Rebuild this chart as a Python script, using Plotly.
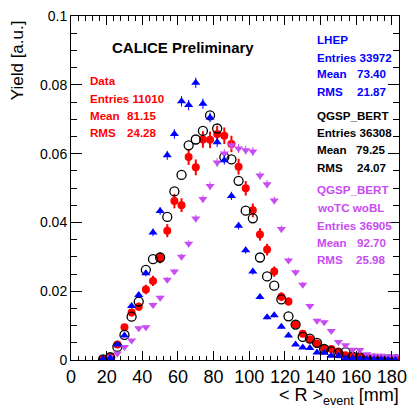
import plotly.graph_objects as go

# bin centres [mm]
r_bins = [18, 22, 26, 30, 34, 38, 42, 46, 50, 54, 58, 62, 66, 70, 74, 78, 82, 86, 90, 94, 98,
          102, 106, 110, 114, 118, 122, 126, 130, 134, 138, 142, 146, 150, 154, 158, 162, 166,
          170, 174, 178, 182]

data_y = [0.0003, 0.0008, 0.0045, 0.0095, 0.0138, 0.0155, 0.0205, 0.0230, 0.0297, 0.0376, 0.0462,
          0.0450, 0.0590, 0.0560, 0.0641, 0.0640, 0.0657, 0.0652, 0.0628, 0.0562, 0.0499, 0.0435,
          0.0365, 0.0321, 0.0257, 0.0184, 0.0170, 0.0103, 0.0076, 0.0060, 0.0048, 0.0033, 0.0032,
          0.0025, 0.0014, 0.0011, 0.0009, 0.0006, 0.0005, 0.0004, 0.0003, 0.0002]
data_err = [0.0002, 0.0003, 0.0006, 0.0009, 0.0011, 0.0012, 0.0014, 0.0015, 0.0016, 0.0019, 0.0021,
            0.0020, 0.0023, 0.0023, 0.0024, 0.0024, 0.0024, 0.0024, 0.0024, 0.0023, 0.0021, 0.0020,
            0.0018, 0.0017, 0.0015, 0.0013, 0.0012, 0.0010, 0.0008, 0.0007, 0.0007, 0.0006, 0.0005,
            0.0005, 0.0004, 0.0003, 0.0003, 0.0002, 0.0002, 0.0002, 0.0002, 0.0001]

lhep_y = [0.0003, 0.0006, 0.0045, 0.0071, 0.0157, 0.0189, 0.0252, 0.0371, 0.0433, 0.0595, 0.0657,
          0.0752, 0.0741, 0.0806, 0.0745, 0.0705, 0.0633, 0.0581, 0.0477, 0.0390, 0.0319, 0.0257,
          0.0183, 0.0124, 0.0130, 0.0097, 0.0071, 0.0045, 0.0036, 0.0035, 0.0022, 0.0021, 0.0012,
          0.0012, 0.0005, 0.0005, 0.0004, 0.0003, 0.0002, 0.0002, 0.0001, 0.0001]
lhep_err = [0.0001, 0.0001, 0.0004, 0.0005, 0.0007, 0.0008, 0.0009, 0.0011, 0.0011, 0.0013, 0.0014,
            0.0015, 0.0015, 0.0015, 0.0015, 0.0014, 0.0014, 0.0013, 0.0012, 0.0011, 0.0010, 0.0009,
            0.0007, 0.0006, 0.0006, 0.0005, 0.0005, 0.0004, 0.0003, 0.0003, 0.0003, 0.0002, 0.0002,
            0.0002, 0.0001, 0.0001, 0.0001, 0.0001, 0.0001, 0.0001, 0.0001, 0.0001]

bert_y = [0.0002, 0.0008, 0.0038, 0.0073, 0.0126, 0.0170, 0.0262, 0.0293, 0.0298, 0.0416, 0.0490,
          0.0538, 0.0624, 0.0641, 0.0666, 0.0711, 0.0673, 0.0590, 0.0583, 0.0521, 0.0434, 0.0412,
          0.0298, 0.0243, 0.0216, 0.0176, 0.0127, 0.0103, 0.0067, 0.0062, 0.0050, 0.0032, 0.0025,
          0.0020, 0.0023, 0.0010, 0.0008, 0.0005, 0.0004, 0.0003, 0.0002, 0.0002]

wotc_y = [None, 0.0008, 0.0019, 0.0038, 0.0057, 0.0092, 0.0095, 0.0160, 0.0181, 0.0233, 0.0257,
          0.0300, 0.0338, 0.0411, 0.0468, 0.0506, 0.0574, 0.0600, 0.0624, 0.0615, 0.0610, 0.0606,
          0.0536, 0.0511, 0.0464, 0.0381, 0.0289, 0.0255, 0.0219, 0.0157, 0.0114, 0.0110, 0.0084,
          0.0052, 0.0043, 0.0030, 0.0029, 0.0017, 0.0012, 0.0012, 0.0011, 0.0010]
wotc_err = [0.0, 0.0002, 0.0002, 0.0003, 0.0004, 0.0005, 0.0005, 0.0007, 0.0007, 0.0008, 0.0008,
            0.0009, 0.0010, 0.0011, 0.0011, 0.0012, 0.0013, 0.0013, 0.0013, 0.0013, 0.0013, 0.0013,
            0.0012, 0.0012, 0.0011, 0.0010, 0.0009, 0.0008, 0.0008, 0.0007, 0.0006, 0.0006, 0.0005,
            0.0004, 0.0003, 0.0003, 0.0003, 0.0002, 0.0002, 0.0002, 0.0002, 0.0002]

RED = "#ff0000"
BLUE = "#0000ff"
BLACK = "#000000"
VIOLET = "#c84cf2"
FONT = "Liberation Sans, Arial, Helvetica, sans-serif"

W, H = 415, 407
L, R, T, B = 71, 8, 10, 47
PW, PH = W - L - R, H - T - B


def px(x):
    return (x - L) / PW


def py(y):
    return (H - B - y) / PH


fig = go.Figure()

fig.add_trace(go.Scatter(
    x=r_bins, y=data_y, mode="markers", name="Data",
    marker=dict(symbol="circle", size=8, color=RED),
    error_y=dict(type="data", array=data_err, color=RED, thickness=2, width=0)))
fig.add_trace(go.Scatter(
    x=r_bins, y=bert_y, mode="markers", name="QGSP_BERT",
    marker=dict(symbol="circle-open", size=9, color=BLACK, line=dict(width=1.3, color=BLACK))))
fig.add_trace(go.Scatter(
    x=r_bins, y=wotc_y, mode="markers", name="QGSP_BERT woTC woBL",
    marker=dict(symbol="triangle-down", size=8, color=VIOLET),
    error_y=dict(type="data", array=wotc_err, color=VIOLET, thickness=1, width=0)))
fig.add_trace(go.Scatter(
    x=r_bins, y=lhep_y, mode="markers", name="LHEP",
    marker=dict(symbol="triangle-up", size=8, color=BLUE),
    error_y=dict(type="data", array=lhep_err, color=BLUE, thickness=1, width=0)))

ann = []


def text(x, y, s, color, anchor="left", size=11.6, bold=True):
    ann.append(dict(x=px(x), y=py(y), xref="paper", yref="paper", text=("<b>%s</b>" % s) if bold else s,
                    showarrow=False, xanchor=anchor, yanchor="middle",
                    font=dict(family=FONT, size=size, color=color)))


text(186, 42, "CALICE Preliminary", BLACK, anchor="center", size=15)

# Data stats
text(88, 76, "Data", RED)
text(88, 94, "Entries 11010", RED)
text(88, 111, "Mean", RED)
text(161, 111, "81.15", RED, anchor="right")
text(88, 129, "RMS", RED)
text(161, 129, "24.28", RED, anchor="right")

# LHEP stats
LX, RX = 321, 396
text(LX, 34, "LHEP", BLUE)
text(LX, 52, "Entries 33972", BLUE)
text(LX, 69, "Mean", BLUE)
text(RX, 69, "73.40", BLUE, anchor="right")
text(LX, 87, "RMS", BLUE)
text(RX, 87, "21.87", BLUE, anchor="right")

# QGSP_BERT stats
text(LX, 111, "QGSP_BERT", BLACK)
text(LX, 129, "Entries 36308", BLACK)
text(LX, 146, "Mean", BLACK)
text(RX, 146, "79.25", BLACK, anchor="right")
text(LX, 164, "RMS", BLACK)
text(RX, 164, "24.07", BLACK, anchor="right")

# QGSP_BERT woTC woBL stats
text(LX, 187, "QGSP_BERT", VIOLET)
text(LX, 205, "woTC woBL", VIOLET)
text(LX, 223, "Entries 36905", VIOLET)
text(LX, 240, "Mean", VIOLET)
text(RX, 240, "92.70", VIOLET, anchor="right")
text(LX, 258, "RMS", VIOLET)
text(RX, 258, "25.98", VIOLET, anchor="right")

# axis titles
ann.append(dict(x=px(17), y=py(12), xref="paper", yref="paper", text="Yield [a.u.]",
                textangle=-90, showarrow=False, xanchor="center", yanchor="top",
                font=dict(family=FONT, size=17, color=BLACK)))
ann.append(dict(x=px(409), y=py(397), xref="paper", yref="paper",
                text="&lt; R &gt;<sub>event</sub> [mm]",
                showarrow=False, xanchor="right", yanchor="middle",
                font=dict(family=FONT, size=18, color=BLACK)))

fig.update_layout(
    width=W, height=H,
    margin=dict(l=L, r=R, t=T, b=B, pad=0),
    paper_bgcolor="white", plot_bgcolor="white",
    showlegend=False,
    annotations=ann,
    font=dict(family=FONT, color=BLACK),
)
fig.update_xaxes(
    range=[0, 184], showgrid=False, zeroline=False,
    showline=True, linecolor=BLACK, linewidth=1, mirror="allticks",
    ticks="inside", ticklen=9, tickwidth=1, tickcolor=BLACK,
    tick0=0, dtick=20,
    minor=dict(ticks="inside", ticklen=4.5, tickwidth=1, tickcolor=BLACK, tick0=0, dtick=4, showgrid=False),
    tickfont=dict(family=FONT, size=18, color=BLACK),
)
fig.update_yaxes(
    range=[0, 0.1], showgrid=False, zeroline=False,
    showline=True, linecolor=BLACK, linewidth=1, mirror="allticks",
    ticks="inside", ticklen=11, tickwidth=1, tickcolor=BLACK,
    tick0=0, dtick=0.02,
    minor=dict(ticks="inside", ticklen=6, tickwidth=1, tickcolor=BLACK, tick0=0, dtick=0.005, showgrid=False),
    tickfont=dict(family=FONT, size=14, color=BLACK),
)

fig.write_html("out.html")
